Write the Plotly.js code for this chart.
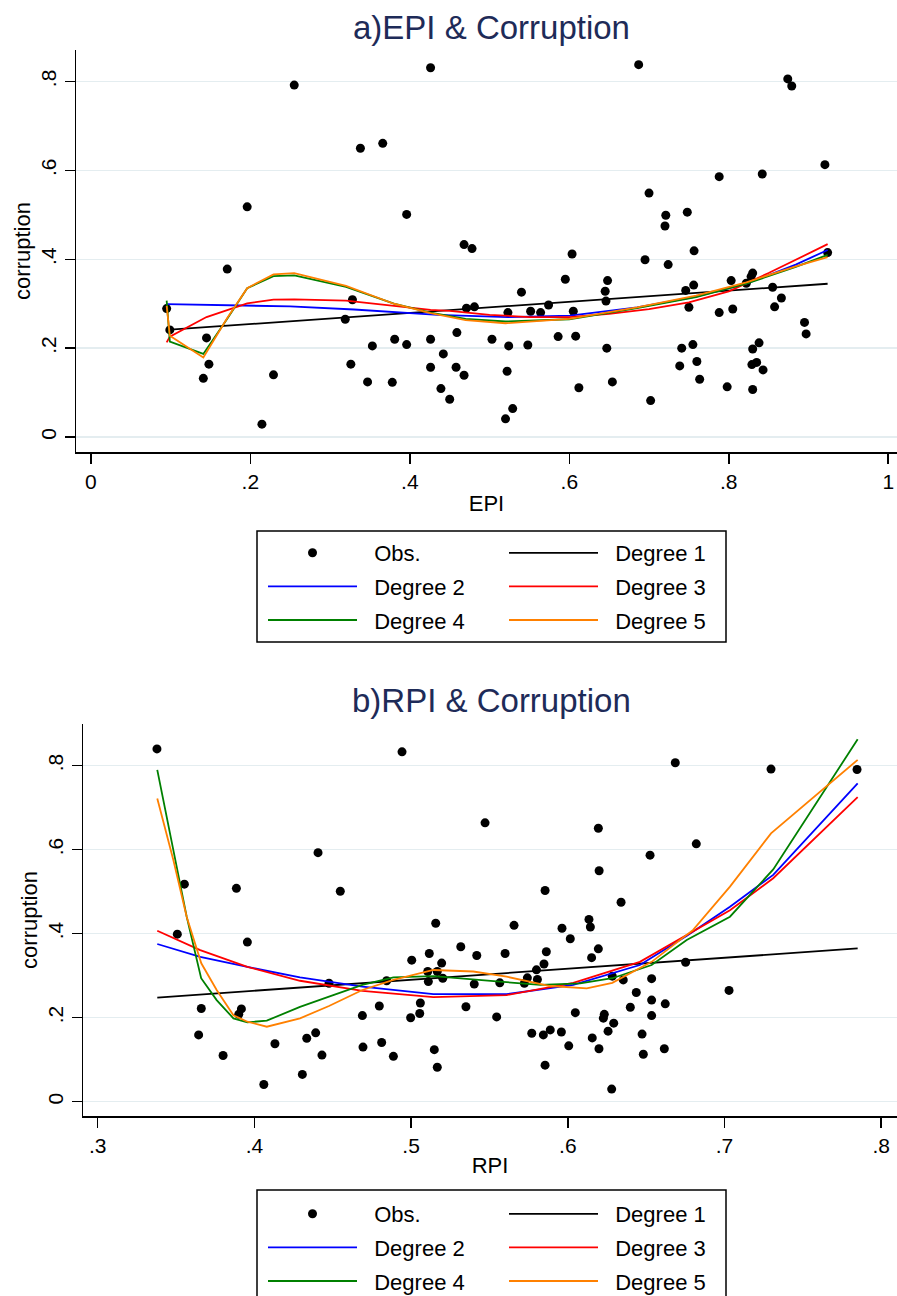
<!DOCTYPE html>
<html>
<head>
<meta charset="utf-8">
<script src="https://cdn.plot.ly/plotly-3.0.1.min.js"></script>
<style>html,body{margin:0;padding:0;background:#fff;}#chart{width:897px;height:1296px;}</style>
</head>
<body>
<div id="chart"></div>
<script>
// ---------- Panel a) EPI & Corruption : observations ----------
const epiX = [0.095,0.099,0.141,0.145,0.148,0.171,0.196,0.2145,0.229,0.255,0.319,0.326,0.328,0.338,0.347,0.353,0.366,0.378,0.381,0.396,0.396,0.426,0.426,0.426,0.442,0.439,0.450,0.458,0.459,0.468,0.468,0.478,0.471,0.481,0.503,0.520,0.522,0.523,0.524,0.529,0.540,0.548,0.5515,0.564,0.574,0.586,0.595,0.6035,0.605,0.608,0.612,0.645,0.646,0.647,0.648,0.654,0.687,0.695,0.700,0.702,0.720,0.721,0.724,0.7385,0.741,0.746,0.748,0.750,0.755,0.756,0.7565,0.760,0.7635,0.788,0.788,0.798,0.803,0.805,0.822,0.828,0.830,0.830,0.829,0.835,0.830,0.838,0.842,0.843,0.855,0.8575,0.866,0.874,0.879,0.895,0.897,0.9206,0.924];
const epiCorr = [0.289,0.241,0.132,0.223,0.164,0.378,0.518,0.029,0.140,0.792,0.265,0.164,0.309,0.650,0.124,0.205,0.661,0.123,0.220,0.501,0.208,0.831,0.220,0.157,0.187,0.109,0.085,0.157,0.235,0.139,0.433,0.424,0.290,0.293,0.220,0.041,0.148,0.280,0.205,0.064,0.326,0.207,0.283,0.280,0.297,0.226,0.355,0.412,0.283,0.227,0.111,0.328,0.306,0.200,0.352,0.124,0.838,0.399,0.549,0.082,0.475,0.499,0.388,0.160,0.200,0.330,0.506,0.292,0.208,0.342,0.419,0.170,0.130,0.586,0.280,0.113,0.352,0.288,0.346,0.361,0.369,0.198,0.163,0.168,0.107,0.212,0.592,0.151,0.337,0.293,0.313,0.806,0.790,0.258,0.232,0.613,0.415];

// ---------- Panel a) fitted curves (read from picture) ----------
const epiD1X = [0.095, 0.924];
const epiD1Y = [0.241, 0.345];
const epiD2X = [0.095,0.171,0.25,0.33,0.435,0.523,0.601,0.685,0.759,0.822,0.884,0.924];
const epiD2Y = [0.299,0.297,0.294,0.287,0.275,0.270,0.273,0.292,0.316,0.345,0.388,0.421];
const epiD3X = [0.095,0.099,0.145,0.171,0.196,0.229,0.255,0.32,0.38,0.426,0.45,0.50,0.55,0.60,0.65,0.70,0.75,0.80,0.85,0.924];
const epiD3Y = [0.213,0.226,0.270,0.286,0.301,0.309,0.310,0.307,0.295,0.286,0.284,0.275,0.270,0.270,0.277,0.288,0.303,0.328,0.369,0.434];
const epiD4X = [0.095,0.099,0.141,0.171,0.196,0.229,0.255,0.32,0.38,0.426,0.47,0.52,0.60,0.685,0.759,0.822,0.884,0.924];
const epiD4Y = [0.307,0.215,0.187,0.266,0.335,0.362,0.364,0.338,0.300,0.280,0.266,0.260,0.265,0.290,0.315,0.345,0.383,0.410];
const epiD5X = [0.095,0.099,0.141,0.171,0.196,0.229,0.255,0.32,0.38,0.426,0.47,0.52,0.60,0.685,0.759,0.822,0.884,0.924];
const epiD5Y = [0.295,0.228,0.179,0.268,0.335,0.366,0.369,0.340,0.300,0.279,0.263,0.256,0.266,0.292,0.318,0.348,0.384,0.405];

// ---------- Panel b) RPI & Corruption : observations ----------
const rpiX = [0.3378,0.3508,0.3553,0.3644,0.3661,0.380,0.3885,0.390,0.3917,0.3955,0.406,0.4131,0.4306,0.4334,0.4391,0.4406,0.4431,0.4476,0.4548,0.4689,0.4693,0.4797,0.4812,0.4844,0.4887,0.4942,0.4997,0.5004,0.5055,0.5059,0.5106,0.511,0.5116,0.5148,0.5157,0.5167,0.5167,0.5195,0.5202,0.5317,0.535,0.5403,0.5419,0.5472,0.5546,0.5566,0.560,0.5657,0.5723,0.5742,0.577,0.580,0.5806,0.5844,0.5848,0.5855,0.5855,0.5863,0.5888,0.5959,0.5963,0.6006,0.6016,0.6048,0.6135,0.6144,0.6152,0.6156,0.6195,0.6195,0.6199,0.620,0.6227,0.6233,0.6257,0.628,0.6284,0.6293,0.634,0.6354,0.6399,0.6437,0.6474,0.6482,0.6525,0.6535,0.6535,0.6535,0.6616,0.6622,0.6686,0.6752,0.682,0.7029,0.7297,0.7846];
const rpiCorr = [0.840,0.399,0.518,0.159,0.222,0.110,0.508,0.208,0.221,0.380,0.041,0.138,0.065,0.151,0.164,0.593,0.111,0.282,0.501,0.205,0.130,0.228,0.141,0.288,0.108,0.833,0.200,0.337,0.210,0.235,0.310,0.286,0.353,0.124,0.425,0.082,0.310,0.330,0.294,0.369,0.226,0.280,0.348,0.664,0.202,0.283,0.353,0.420,0.282,0.295,0.163,0.314,0.291,0.159,0.328,0.503,0.087,0.357,0.171,0.166,0.413,0.133,0.388,0.212,0.434,0.416,0.343,0.152,0.651,0.364,0.126,0.550,0.199,0.208,0.168,0.030,0.299,0.187,0.475,0.290,0.225,0.260,0.161,0.113,0.587,0.293,0.242,0.205,0.126,0.233,0.807,0.332,0.614,0.265,0.792,0.791];

// ---------- Panel b) fitted curves (read from picture) ----------
const rpiD1X = [0.338, 0.785];
const rpiD1Y = [0.248, 0.365];
const rpiD2X = [0.338,0.3654,0.3955,0.4291,0.4689,0.5142,0.561,0.6035,0.646,0.676,0.7035,0.7311,0.785];
const rpiD2Y = [0.3755,0.345,0.321,0.296,0.274,0.256,0.256,0.278,0.3255,0.395,0.464,0.540,0.758];
const rpiD3X = [0.338,0.3654,0.3955,0.4291,0.4689,0.5142,0.561,0.6035,0.646,0.676,0.7035,0.7311,0.785];
const rpiD3Y = [0.407,0.361,0.321,0.288,0.264,0.249,0.254,0.283,0.333,0.398,0.456,0.532,0.725];
const rpiD4X = [0.338,0.3483,0.3568,0.366,0.3759,0.3866,0.3955,0.4079,0.4291,0.4476,0.4689,0.4887,0.5142,0.5566,0.5824,0.6079,0.6284,0.6535,0.6759,0.7035,0.7311,0.785];
const rpiD4Y = [0.790,0.599,0.44,0.294,0.242,0.1985,0.189,0.193,0.226,0.25,0.278,0.296,0.299,0.286,0.278,0.282,0.294,0.3255,0.385,0.4405,0.553,0.863];
const rpiD5X = [0.338,0.3483,0.3568,0.3661,0.3759,0.3866,0.3955,0.4079,0.4291,0.4476,0.4689,0.4887,0.5142,0.5397,0.561,0.5887,0.6121,0.6284,0.6535,0.68,0.7035,0.7297,0.785];
const rpiD5Y = [0.722,0.575,0.44,0.3295,0.266,0.206,0.1905,0.1786,0.1985,0.228,0.266,0.29,0.3136,0.31,0.2976,0.2755,0.27,0.283,0.333,0.409,0.512,0.639,0.814];

// ---------- Text / ticks ----------
const titleA = 'a)EPI & Corruption';
const titleB = 'b)RPI & Corruption';
const yTickVals = [0, 0.2, 0.4, 0.6, 0.8];
const yTickText = ['0', '.2', '.4', '.6', '.8'];
const epiTickVals = [0, 0.2, 0.4, 0.6, 0.8, 1];
const epiTickText = ['0', '.2', '.4', '.6', '.8', '1'];
const rpiTickVals = [0.3, 0.4, 0.5, 0.6, 0.7, 0.8];
const rpiTickText = ['.3', '.4', '.5', '.6', '.7', '.8'];
const seriesNames = ['Obs.', 'Degree 1', 'Degree 2', 'Degree 3', 'Degree 4', 'Degree 5'];
const seriesColors = ['#000000', '#000000', '#0000ff', '#ff0000', '#008000', '#ff8000'];

const FONT = '"Liberation Sans", Arial, Helvetica, sans-serif';
const NB = '\u00A0\u00A0';

function panel(xa, ya, obsX, obsY, fits, legA, legB, grp) {
  const out = [];
  out.push({
    type: 'scatter', mode: 'markers', x: obsX, y: obsY, xaxis: xa, yaxis: ya,
    name: NB + seriesNames[0], legend: legA, legendgroup: grp + '0',
    marker: {color: seriesColors[0], size: 9, line: {width: 0}}
  });
  fits.forEach((f, i) => {
    out.push({
      type: 'scatter', mode: 'lines', x: f[0], y: f[1], xaxis: xa, yaxis: ya,
      name: NB + seriesNames[i + 1], legend: (i % 2 === 0) ? legB : legA,
      legendgroup: grp + (i + 1),
      line: {color: seriesColors[i + 1], width: 1.8}
    });
  });
  return out;
}

const data = [].concat(
  panel('x', 'y', epiX, epiCorr,
    [[epiD1X, epiD1Y], [epiD2X, epiD2Y], [epiD3X, epiD3Y], [epiD4X, epiD4Y], [epiD5X, epiD5Y]],
    'legend', 'legend2', 'a'),
  panel('x2', 'y2', rpiX, rpiCorr,
    [[rpiD1X, rpiD1Y], [rpiD2X, rpiD2Y], [rpiD3X, rpiD3Y], [rpiD4X, rpiD4Y], [rpiD5X, rpiD5Y]],
    'legend3', 'legend4', 'b')
);

const W = 897, H = 1296;
const px = v => v / W;
const py = v => 1 - v / H;

const axLine = {showline: true, linecolor: '#000', linewidth: 1.5, ticks: 'outside', ticklen: 10,
  tickwidth: 1.5, tickcolor: '#000', zeroline: false, ticklabeloverflow: 'allow',
  tickfont: {family: FONT, size: 21, color: '#000'}};

function legendCfg(xLeft, yTop) {
  return {x: px(xLeft), y: py(yTop), xanchor: 'left', yanchor: 'top', orientation: 'v',
    bgcolor: 'rgba(0,0,0,0)', borderwidth: 0, itemwidth: 89, traceorder: 'grouped', tracegroupgap: 2,
    font: {family: FONT, size: 22, color: '#000'}};
}

const layout = {
  width: W, height: H,
  margin: {l: 0, r: 0, t: 0, b: 0, autoexpand: false},
  paper_bgcolor: '#fff', plot_bgcolor: '#fff',
  font: {family: FONT, color: '#000'},
  showlegend: true,
  xaxis: Object.assign({}, axLine, {domain: [px(76), 1], range: [-0.0187, 1.011], anchor: 'y',
    tickvals: epiTickVals, ticktext: epiTickText, showgrid: false,
    title: {text: 'EPI', font: {family: FONT, size: 22, color: '#000'}, standoff: 4}}),
  yaxis: Object.assign({}, axLine, {domain: [py(452), py(50)], range: [-0.0337, 0.871], anchor: 'x',
    tickvals: yTickVals, ticktext: yTickText, tickangle: -90, showgrid: true, gridcolor: '#e4edf0', gridwidth: 1.5,
    title: {text: 'corruption', font: {family: FONT, size: 22, color: '#000'}, standoff: 0}}),
  xaxis2: Object.assign({}, axLine, {domain: [px(83), 1], range: [0.2906, 0.8101], anchor: 'y2',
    tickvals: rpiTickVals, ticktext: rpiTickText, showgrid: false,
    title: {text: 'RPI', font: {family: FONT, size: 22, color: '#000'}, standoff: 2}}),
  yaxis2: Object.assign({}, axLine, {domain: [py(1116), py(724)], range: [-0.034, 0.8993], anchor: 'x2',
    tickvals: yTickVals, ticktext: yTickText, tickangle: -90, showgrid: true, gridcolor: '#e4edf0', gridwidth: 1.5,
    title: {text: 'corruption', font: {family: FONT, size: 22, color: '#000'}, standoff: 0}}),
  legend: legendCfg(263, 532),
  legend2: legendCfg(504, 532),
  legend3: legendCfg(263, 1193),
  legend4: legendCfg(504, 1193),
  shapes: [
    {type: 'rect', xref: 'paper', yref: 'paper', x0: px(257), x1: px(726), y0: py(642), y1: py(531),
      line: {color: '#000', width: 1.5}, fillcolor: 'rgba(0,0,0,0)'},
    {type: 'rect', xref: 'paper', yref: 'paper', x0: px(257), x1: px(726), y0: py(1302), y1: py(1190),
      line: {color: '#000', width: 1.5}, fillcolor: 'rgba(0,0,0,0)'}
  ],
  annotations: [
    {text: titleA, xref: 'paper', yref: 'paper', x: px(491), y: py(28), xanchor: 'center', yanchor: 'middle',
      showarrow: false, font: {family: FONT, size: 33, color: '#1e2b58'}},
    {text: titleB, xref: 'paper', yref: 'paper', x: px(491), y: py(700), xanchor: 'center', yanchor: 'middle',
      showarrow: false, font: {family: FONT, size: 33, color: '#1e2b58'}}
  ]
};

Plotly.newPlot('chart', data, layout, {staticPlot: true, displayModeBar: false});
</script>
</body>
</html>
